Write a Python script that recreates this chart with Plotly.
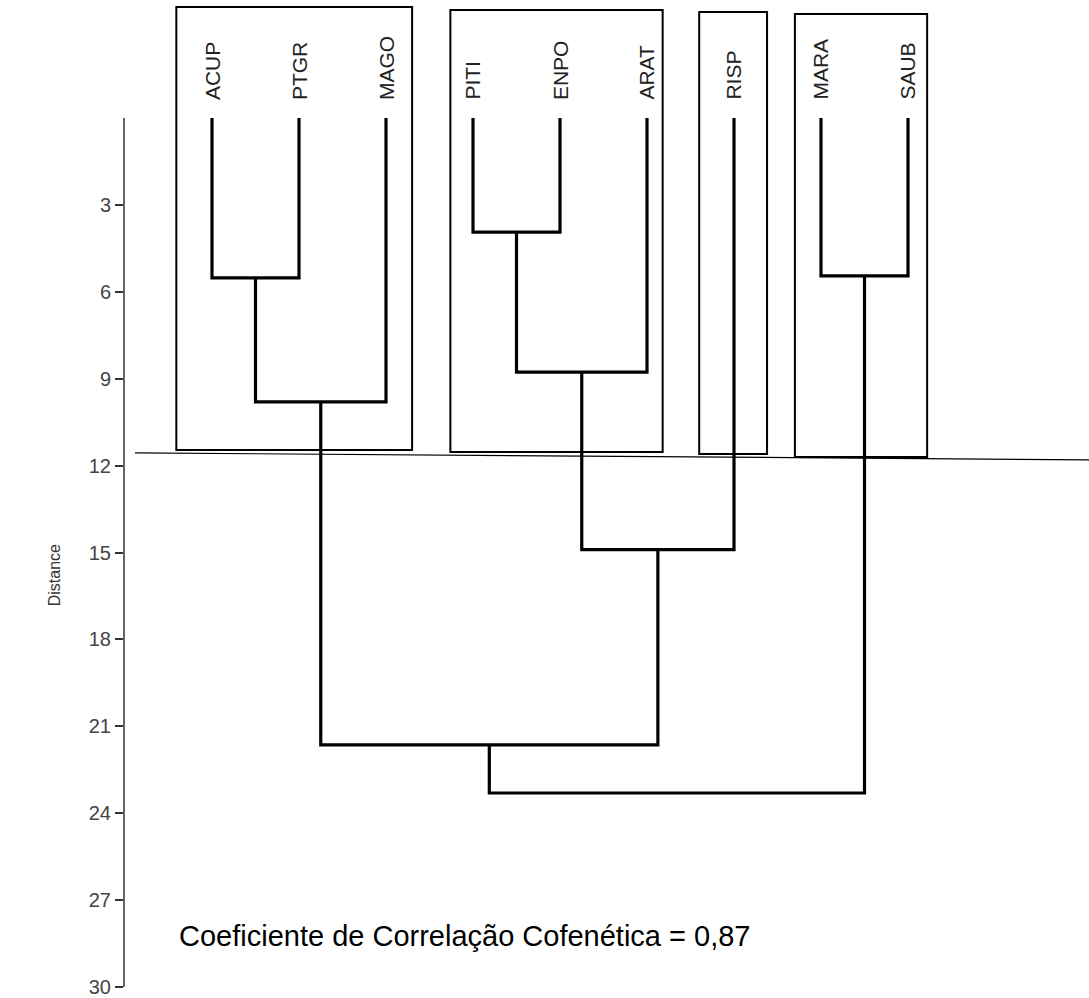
import plotly.graph_objects as go

# ---------------- data ----------------
leaves = ["ACUP", "PTGR", "MAGO", "PITI", "ENPO", "ARAT", "RISP", "MARA", "SAUB"]
# merges: (left cluster id, right cluster id, distance); leaves are ids 0..8,
# new clusters get ids 9, 10, ...
merge_left = [0, 3, 7, 10, 9, 12, 13, 15]
merge_right = [1, 4, 8, 5, 2, 6, 14, 11]
merge_height = [5.52, 3.94, 5.45, 8.77, 9.80, 14.9, 21.64, 23.3]

tick_vals = [3, 6, 9, 12, 15, 18, 21, 24, 27, 30]
tick_text = ["3", "6", "9", "12", "15", "18", "21", "24", "27", "30"]

# group boxes (leaf index ranges) and their edges in data units
box_first = [0, 3, 6, 7]
box_last = [2, 5, 6, 8]
box_left_pad = [0.41, 0.26, 0.40, 0.30]
box_right_pad = [0.30, 0.18, 0.38, 0.22]
box_top = [-3.83, -3.73, -3.66, -3.59]
box_bottom = [11.46, 11.53, 11.60, 11.70]

cut_x = [-0.885, 10.1]
cut_y = [11.56, 11.80]

coef_text = "Coeficiente de Correlação Cofenética = 0,87"

# ---------------- figure ----------------
fig = go.Figure()

pos = {i: (float(i), 0.0) for i in range(len(leaves))}
nid = len(leaves)
for a, b, h in zip(merge_left, merge_right, merge_height):
    xa, ha = pos[a]
    xb, hb = pos[b]
    fig.add_trace(go.Scatter(
        x=[xa, xa, xb, xb], y=[ha, h, h, hb], mode="lines",
        line=dict(color="black", width=3.2), hoverinfo="skip", showlegend=False))
    pos[nid] = ((xa + xb) / 2.0, h)
    nid += 1

# boxes
for f, l, lp, rp, t, bt in zip(box_first, box_last, box_left_pad, box_right_pad, box_top, box_bottom):
    fig.add_shape(type="rect", xref="x", yref="y", x0=f - lp, x1=l + rp, y0=t, y1=bt,
                  line=dict(color="black", width=2), fillcolor="rgba(0,0,0,0)")

# cut line
fig.add_trace(go.Scatter(x=cut_x, y=cut_y, mode="lines", line=dict(color="black", width=1.2),
                         hoverinfo="skip", showlegend=False))

# y axis line (0 to 30)
fig.add_shape(type="line", xref="paper", yref="y", x0=0, x1=0, y0=0, y1=30,
              line=dict(color="#333333", width=1.5))

# leaf labels
for i, name in enumerate(leaves):
    fig.add_annotation(x=i, y=-0.55, text=name, textangle=-90, showarrow=False,
                       xanchor="center", yanchor="bottom",
                       font=dict(family="Liberation Sans, Arial", size=21, color="#222222"))

fig.add_annotation(x=-0.4, y=28.25, text=coef_text, showarrow=False, xanchor="left",
                   yanchor="middle", font=dict(family="Liberation Sans, Arial", size=29, color="black"))

fig.add_annotation(xref="paper", x=-0.072, y=15.8, text="Distance", textangle=-90, showarrow=False,
                   xanchor="center", yanchor="middle",
                   font=dict(family="Liberation Sans, Arial", size=16, color="#333333"))

fig.update_xaxes(range=[(124 - 212) / 87.0, (1089 - 212) / 87.0], visible=False, showgrid=False)
fig.update_yaxes(range=[(998 - 118) / 28.97, (0 - 118) / 28.97], tickvals=tick_vals, ticktext=tick_text,
                 showgrid=False, zeroline=False, showline=False, ticks="outside", ticklen=8,
                 tickwidth=1.5, tickcolor="#333333", ticklabeloverflow="allow",
                 tickfont=dict(family="Liberation Sans, Arial", size=20, color="#444444"))

fig.update_layout(width=1089, height=998, margin=dict(l=124, r=0, t=0, b=0),
                  plot_bgcolor="white", paper_bgcolor="white")

fig.write_html("out.html")
